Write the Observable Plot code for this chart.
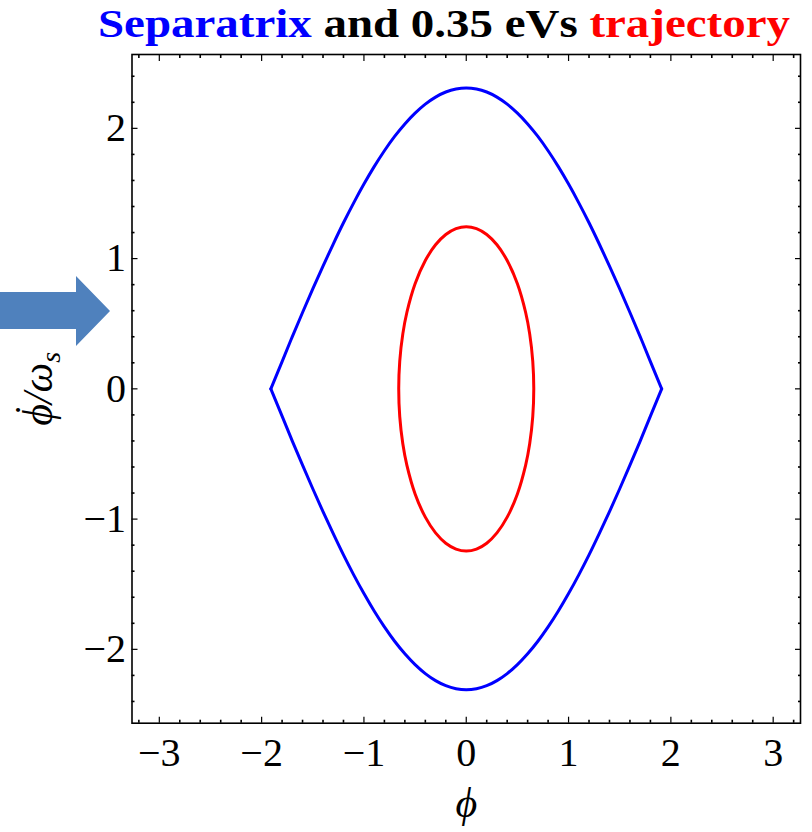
<!DOCTYPE html>
<html>
<head>
<meta charset="utf-8">
<script src="https://cdn.jsdelivr.net/npm/d3@7"></script>
<script src="https://cdn.jsdelivr.net/npm/@observablehq/plot@0.6"></script>
<style>
  body { margin: 0; background: #fff; }
  #wrap { position: relative; width: 812px; height: 832px; overflow: hidden; }
  #title { display: block; }
  #chart svg { display: block; }
  #arrow { position: absolute; left: 0; top: 0; pointer-events: none; }
</style>
</head>
<body>
<div id="wrap">
  <svg id="title" width="812" height="48">
    <text x="98" y="37" textLength="692" lengthAdjust="spacingAndGlyphs" font-family="Liberation Serif, serif" font-weight="bold" font-size="41"><tspan fill="#0000ff">Separatrix</tspan><tspan fill="#000000"> and 0.35 eVs </tspan><tspan fill="#ff0000">trajectory</tspan></text>
  </svg>
  <div id="chart"></div>
  <svg id="arrow" width="812" height="832">
    <polygon points="0,292 76,292 76,276 110,311 76,346 76,329 0,329" fill="#4f81bd"></polygon>
  </svg>
</div>
<script>
// Separatrix: phase (rad) and normalised phase velocity on the upper / lower branch
const sepPhi = [-1.91, -1.8, -1.7, -1.6, -1.5, -1.4, -1.3, -1.2, -1.1, -1.0, -0.9, -0.8, -0.7, -0.6, -0.5, -0.4, -0.3, -0.2, -0.1, 0,
                0.1, 0.2, 0.3, 0.4, 0.5, 0.6, 0.7, 0.8, 0.9, 1.0, 1.1, 1.2, 1.3, 1.4, 1.5, 1.6, 1.7, 1.8, 1.91];
const sepUpper = [0, 0.209, 0.401, 0.586, 0.767, 0.943, 1.112, 1.275, 1.428, 1.572, 1.706, 1.828, 1.938, 2.034, 2.117, 2.186, 2.240, 2.279, 2.302, 2.31,
                  2.302, 2.279, 2.240, 2.186, 2.117, 2.034, 1.938, 1.828, 1.706, 1.572, 1.428, 1.275, 1.112, 0.943, 0.767, 0.586, 0.401, 0.209, 0];
const sepLower = [0, -0.209, -0.401, -0.586, -0.767, -0.943, -1.112, -1.275, -1.428, -1.572, -1.706, -1.828, -1.938, -2.034, -2.117, -2.186, -2.240, -2.279, -2.302, -2.31,
                  -2.302, -2.279, -2.240, -2.186, -2.117, -2.034, -1.938, -1.828, -1.706, -1.572, -1.428, -1.275, -1.112, -0.943, -0.767, -0.586, -0.401, -0.209, 0];

// 0.35 eVs trajectory: closed loop, listed going round once
const trajPhi = [-0.66, -0.65, -0.62, -0.58, -0.5, -0.4, -0.3, -0.2, -0.1, 0, 0.1, 0.2, 0.3, 0.4, 0.5, 0.58, 0.62, 0.65,
                 0.66, 0.65, 0.62, 0.58, 0.5, 0.4, 0.3, 0.2, 0.1, 0, -0.1, -0.2, -0.3, -0.4, -0.5, -0.58, -0.62, -0.65];
const trajDphi = [0, 0.213, 0.422, 0.588, 0.807, 0.985, 1.106, 1.185, 1.230, 1.245, 1.230, 1.185, 1.106, 0.985, 0.807, 0.588, 0.422, 0.213,
                  0, -0.213, -0.422, -0.588, -0.807, -0.985, -1.106, -1.185, -1.230, -1.245, -1.230, -1.185, -1.106, -0.985, -0.807, -0.588, -0.422, -0.213];

// Axis ticks
const xMajor = [-3, -2, -1, 0, 1, 2, 3];
const xMinor = [-3.2, -2.8, -2.6, -2.4, -2.2, -1.8, -1.6, -1.4, -1.2, -0.8, -0.6, -0.4, -0.2,
                0.2, 0.4, 0.6, 0.8, 1.2, 1.4, 1.6, 1.8, 2.2, 2.4, 2.6, 2.8, 3.2];
const yMajor = [-2, -1, 0, 1, 2];
const yMinor = [-2.4, -2.2, -1.8, -1.6, -1.4, -1.2, -0.8, -0.6, -0.4, -0.2,
                0.2, 0.4, 0.6, 0.8, 1.2, 1.4, 1.6, 1.8, 2.2, 2.4];

const separatrix = sepPhi.map((p, i) => ({phi: p, v: sepUpper[i], branch: "upper"}))
  .concat(sepPhi.map((p, i) => ({phi: p, v: sepLower[i], branch: "lower"})));
const trajectory = trajPhi.map((p, i) => ({phi: p, v: trajDphi[i]}));

const fmt = d => d < 0 ? "\u2212" + (-d) : String(d);
const serif = "Liberation Serif, Times New Roman, serif";
const tickStyle = {stroke: "#000", fill: "none", label: null};

const plot = Plot.plot({
  width: 812,
  height: 784,
  marginLeft: 131.5,
  marginRight: 12,
  marginTop: 6,
  marginBottom: 109.3,
  style: {fontFamily: serif, background: "#fff", overflow: "visible"},
  x: {domain: [-3.267, 3.267], label: null},
  y: {domain: [-2.567, 2.567], label: null},
  marks: [
    // inward ticks on all four sides
    Plot.axisX(xMajor, {anchor: "bottom", tickSize: -6, strokeWidth: 1.2, ...tickStyle}),
    Plot.axisX(xMinor, {anchor: "bottom", tickSize: -3, strokeWidth: 1.6, ...tickStyle}),
    Plot.axisX(xMajor, {anchor: "top", tickSize: -6, strokeWidth: 1.2, ...tickStyle}),
    Plot.axisX(xMinor, {anchor: "top", tickSize: -3, strokeWidth: 1.6, ...tickStyle}),
    Plot.axisY(yMajor, {anchor: "left", tickSize: -6, strokeWidth: 1.2, ...tickStyle}),
    Plot.axisY(yMinor, {anchor: "left", tickSize: -3, strokeWidth: 1.6, ...tickStyle}),
    Plot.axisY(yMajor, {anchor: "right", tickSize: -6, strokeWidth: 1.2, ...tickStyle}),
    Plot.axisY(yMinor, {anchor: "right", tickSize: -3, strokeWidth: 1.6, ...tickStyle}),
    // tick labels
    Plot.axisX(xMajor, {anchor: "bottom", tickSize: 0, tickPadding: 14, fontSize: 40, fill: "#000",
                        tickFormat: fmt, label: null, fontFamily: serif}),
    Plot.axisY(yMajor, {anchor: "left", tickSize: 0, tickPadding: 6, fontSize: 40, fill: "#000",
                        tickFormat: fmt, label: null, fontFamily: serif}),
    Plot.frame({stroke: "#000", strokeWidth: 1.6}),
    Plot.line(separatrix, {x: "phi", y: "v", z: "branch", stroke: "#0000ff", strokeWidth: 3,
                           curve: "catmull-rom", strokeLinecap: "round"}),
    Plot.line(trajectory, {x: "phi", y: "v", stroke: "#ff0000", strokeWidth: 3, curve: "catmull-rom-closed"}),
    Plot.text(["\u03D5"], {text: d => d, frameAnchor: "bottom", dy: 80, fontSize: 42, fontStyle: "italic",
                           lineAnchor: "middle", fill: "#000", fontFamily: serif})
  ]
});

document.getElementById("chart").appendChild(plot);

// vertical axis title: dotted phi over omega with subscript s
const svg = d3.select(plot);
const g = svg.append("g").attr("transform", "translate(52,340.8) rotate(-90)");
const yTitle = g.append("text")
  .attr("text-anchor", "middle")
  .attr("font-family", serif)
  .attr("font-style", "italic")
  .attr("font-size", 42)
  .attr("fill", "#000");
yTitle.append("tspan").text("\u03D5/\u03C9");
yTitle.append("tspan").attr("font-size", 28).attr("dy", 8).text("s");

// the time-derivative dot sits above the phi glyph
const node = yTitle.node();
const start = node.getStartPositionOfChar(0);
const end = node.getEndPositionOfChar(0);
g.append("text")
  .attr("x", (start.x + end.x) / 2 + 5)
  .attr("y", start.y - 28)
  .attr("text-anchor", "middle")
  .attr("font-family", serif)
  .attr("font-size", 16)
  .attr("fill", "#000")
  .text("\u2022");
</script>
</body>
</html>
